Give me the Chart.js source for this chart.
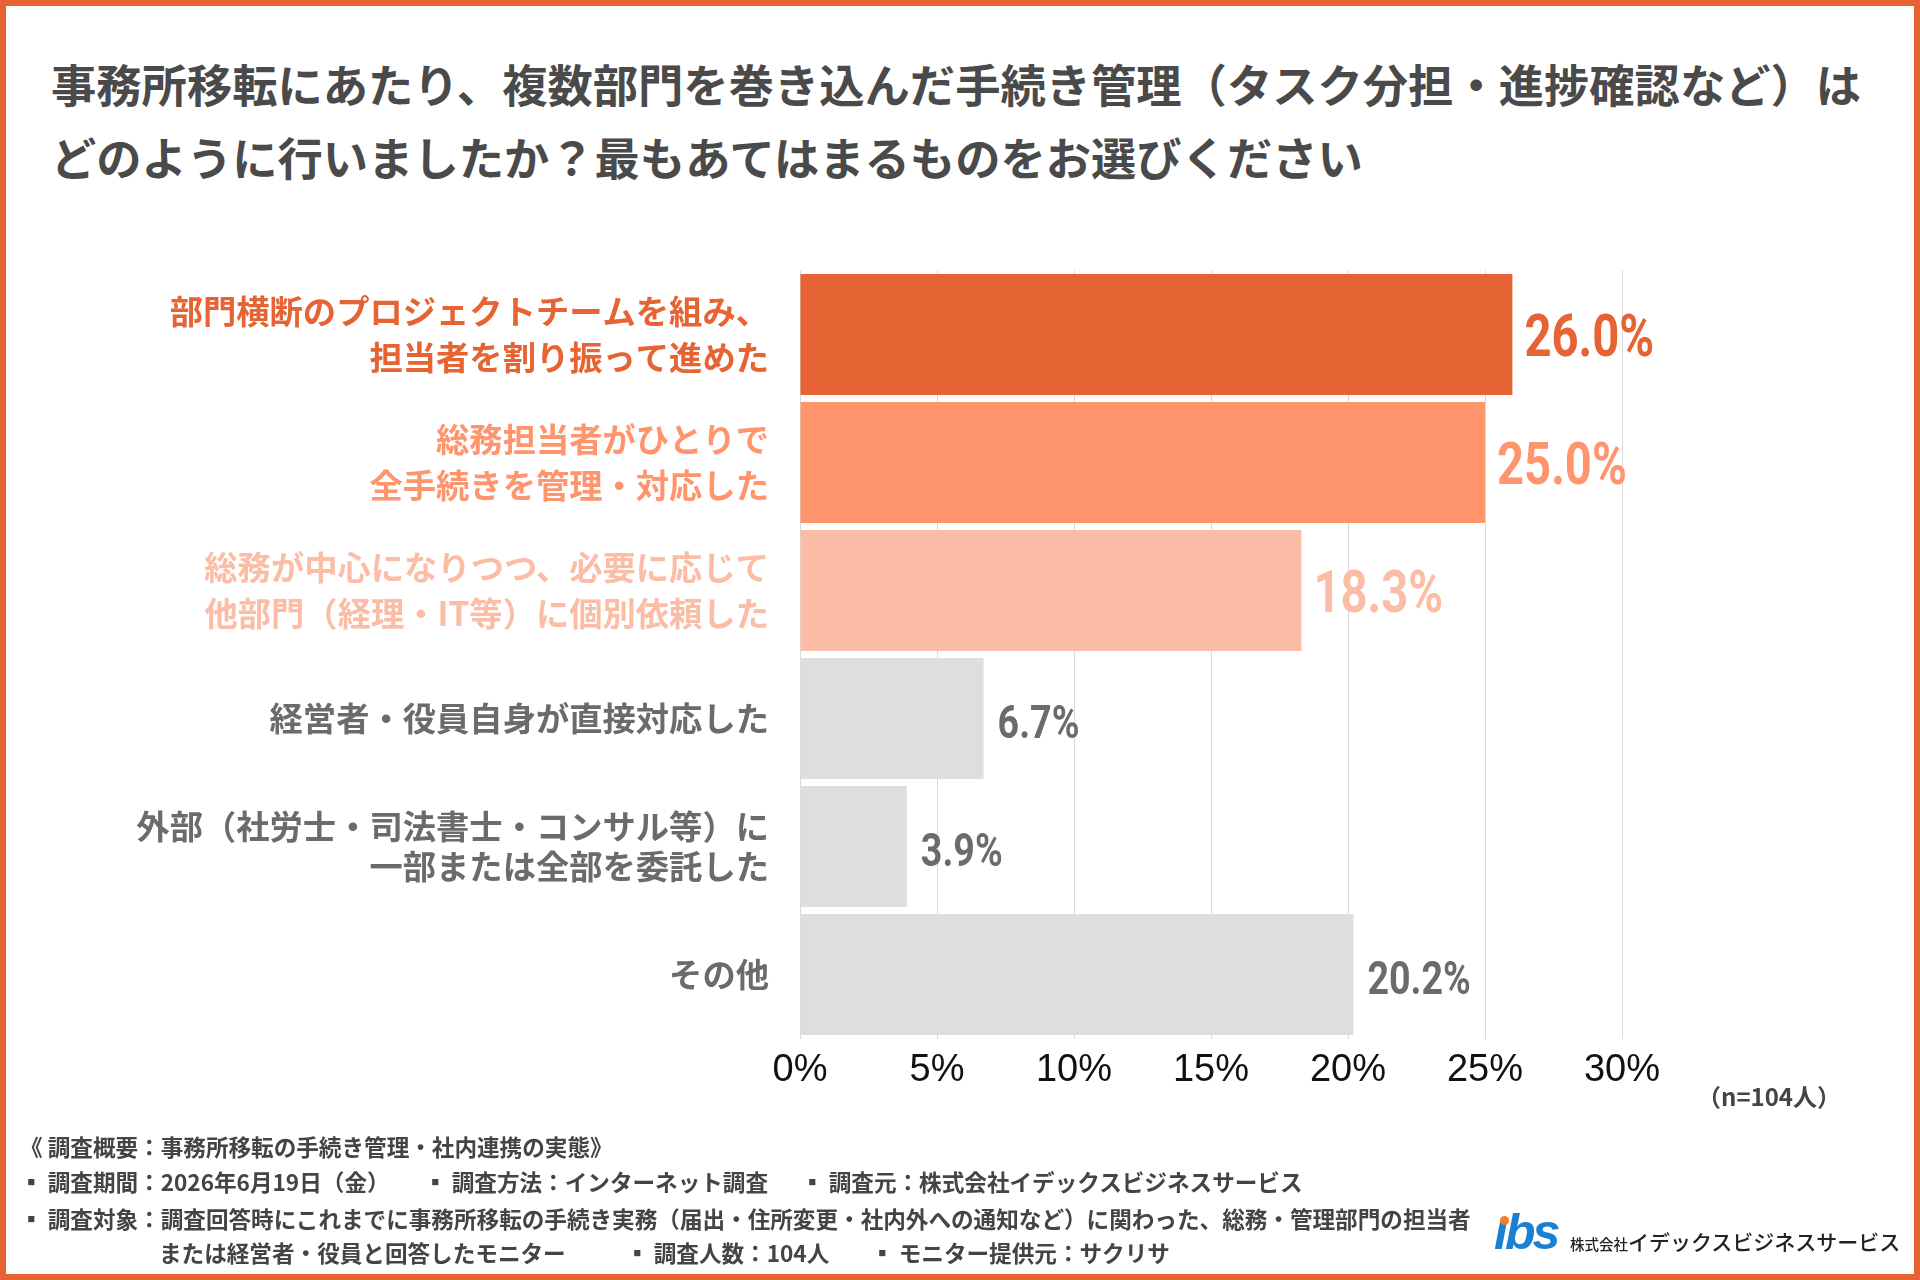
<!DOCTYPE html>
<html lang="ja">
<head>
<meta charset="utf-8">
<script src="https://cdn.jsdelivr.net/npm/chart.js@4.4.1/dist/chart.umd.min.js"></script>
<style>
  html, body { margin: 0; padding: 0; background: #fff; }
  body { width: 1920px; height: 1280px; position: relative; overflow: hidden; font-family: "Noto Sans CJK JP", "Noto Sans", sans-serif; }
  #frame { position: absolute; left: 0; top: 0; width: 1920px; height: 1280px; box-sizing: border-box; border: 6px solid #E66333; }
  #c { position: absolute; left: 0; top: 0; width: 1920px; height: 1280px; }
  .title { position: absolute; left: 51px; font-size: 45.3px; font-weight: 700; color: #4A4A4A; white-space: nowrap; line-height: 60px; }
  .foot { position: absolute; font-size: 22.6px; font-weight: 700; color: #444; white-space: nowrap; line-height: 32px; }
  .n { position: absolute; left: 1697px; top: 1080px; font-size: 24px; font-weight: 700; color: #444; white-space: nowrap; line-height: 32px; }
  .logo { position: absolute; left: 1494px; top: 1204px; font-family: "Liberation Sans", Arial, sans-serif; font-weight: 700; font-style: italic; font-size: 50px; color: #1A80D2; letter-spacing: -3px; line-height: 56px; }
  .dot { position: absolute; left: 1500px; top: 1216px; width: 9px; height: 9px; border-radius: 50%; background: #F07F2A; }
  .company { position: absolute; left: 1570px; top: 1226px; color: #222; white-space: nowrap; line-height: 30px; }
  .company .s { font-size: 14.5px; font-weight: 500; }
  .company .l { font-size: 21px; font-weight: 500; }
</style>
</head>
<body>
<div id="frame"></div>
<div class="title" style="top:53px">事務所移転にあたり、複数部門を巻き込んだ手続き管理（タスク分担・進捗確認など）は</div>
<div class="title" style="top:126px">どのように行いましたか？最もあてはまるものをお選びください</div>
<canvas id="c" width="1920" height="1280"></canvas>
<div class="n">（n=104人）</div>
<div class="foot" style="left:20px;top:1131px">《 調査概要：事務所移転の手続き管理・社内連携の実態》</div>
<div class="foot" style="left:20px;top:1166px">▪ 調査期間：2026年6月19日（金）</div>
<div class="foot" style="left:424px;top:1166px">▪ 調査方法：インターネット調査</div>
<div class="foot" style="left:801px;top:1166px">▪ 調査元：株式会社イデックスビジネスサービス</div>
<div class="foot" style="left:20px;top:1203px">▪ 調査対象：調査回答時にこれまでに事務所移転の手続き実務（届出・住所変更・社内外への通知など）に関わった、総務・管理部門の担当者</div>
<div class="foot" style="left:159px;top:1237px">または経営者・役員と回答したモニター</div>
<div class="foot" style="left:626px;top:1237px">▪ 調査人数：104人</div>
<div class="foot" style="left:871px;top:1237px">▪ モニター提供元：サクリサ</div>
<div class="logo">ıbs</div>
<div class="dot"></div>
<div class="company"><span class="s">株式会社</span><span class="l">イデックスビジネスサービス</span></div>
<script>
const categories = [
  ['部門横断のプロジェクトチームを組み、', '担当者を割り振って進めた'],
  ['総務担当者がひとりで', '全手続きを管理・対応した'],
  ['総務が中心になりつつ、必要に応じて', '他部門（経理・IT等）に個別依頼した'],
  ['経営者・役員自身が直接対応した'],
  ['外部（社労士・司法書士・コンサル等）に', '一部または全部を委託した'],
  ['その他']
];
const values = [26.0, 25.0, 18.3, 6.7, 3.9, 20.2];
const barColors = ['#E66333', '#FF956D', '#FBBDA6', '#DEDEDE', '#DEDEDE', '#DEDEDE'];
const labelColors = ['#E66333', '#FF956D', '#FBBDA6', '#6B6B6B', '#6B6B6B', '#6B6B6B'];
const xTicks = [0, 5, 10, 15, 20, 25, 30];

const valueLabels = {
  id: 'valueLabels',
  afterDatasetsDraw(chart) {
    const ctx = chart.ctx;
    const meta = chart.getDatasetMeta(0);
    meta.data.forEach((bar, i) => {
      const big = i < 3;
      const size = big ? 59 : 47;
      ctx.save();
      ctx.font = 'bold ' + size + 'px Roboto, "Liberation Sans", sans-serif';
      ctx.fillStyle = labelColors[i];
      ctx.textAlign = 'left';
      ctx.textBaseline = 'alphabetic';
      ctx.translate(bar.x + (big ? 12 : 14), bar.y + size * 0.356 + (big ? 0 : 3));
      ctx.scale(0.8, 1);
      ctx.fillText(values[i].toFixed(1) + '%', 0, 0);
      ctx.restore();
    });
  }
};

new Chart(document.getElementById('c'), {
  type: 'bar',
  data: {
    labels: categories,
    datasets: [{
      data: values,
      backgroundColor: barColors,
      barPercentage: 0.945,
      categoryPercentage: 1.0,
      borderWidth: 0
    }]
  },
  options: {
    indexAxis: 'y',
    responsive: false,
    animation: false,
    layout: { padding: { top: 270.5, right: 298, bottom: 181.5, left: 0 } },
    plugins: { legend: { display: false }, tooltip: { enabled: false } },
    scales: {
      x: {
        min: 0, max: 30,
        afterBuildTicks: (s) => { s.ticks = xTicks.map(v => ({ value: v })); },
        afterFit: (s) => { s.height = 60; },
        ticks: {
          callback: (v) => v + '%',
          font: { family: '"Liberation Sans", Arial, sans-serif', size: 38 },
          color: '#111111',
          padding: 9,
          maxRotation: 0
        },
        grid: { color: '#D9D9D9', lineWidth: 1, drawTicks: false },
        border: { display: false }
      },
      y: {
        afterFit: (s) => { s.width = 800; },
        ticks: {
          font: (c) => ({ family: '"Noto Sans CJK JP", sans-serif', size: 33.3, weight: 'bold', lineHeight: c.index === 4 ? 1.2 : 1.37 }),
          color: (c) => labelColors[c.index],
          padding: 31,
          autoSkip: false
        },
        grid: { display: false, drawTicks: false },
        border: { display: false }
      }
    }
  },
  plugins: [valueLabels]
});
</script>
</body>
</html>
